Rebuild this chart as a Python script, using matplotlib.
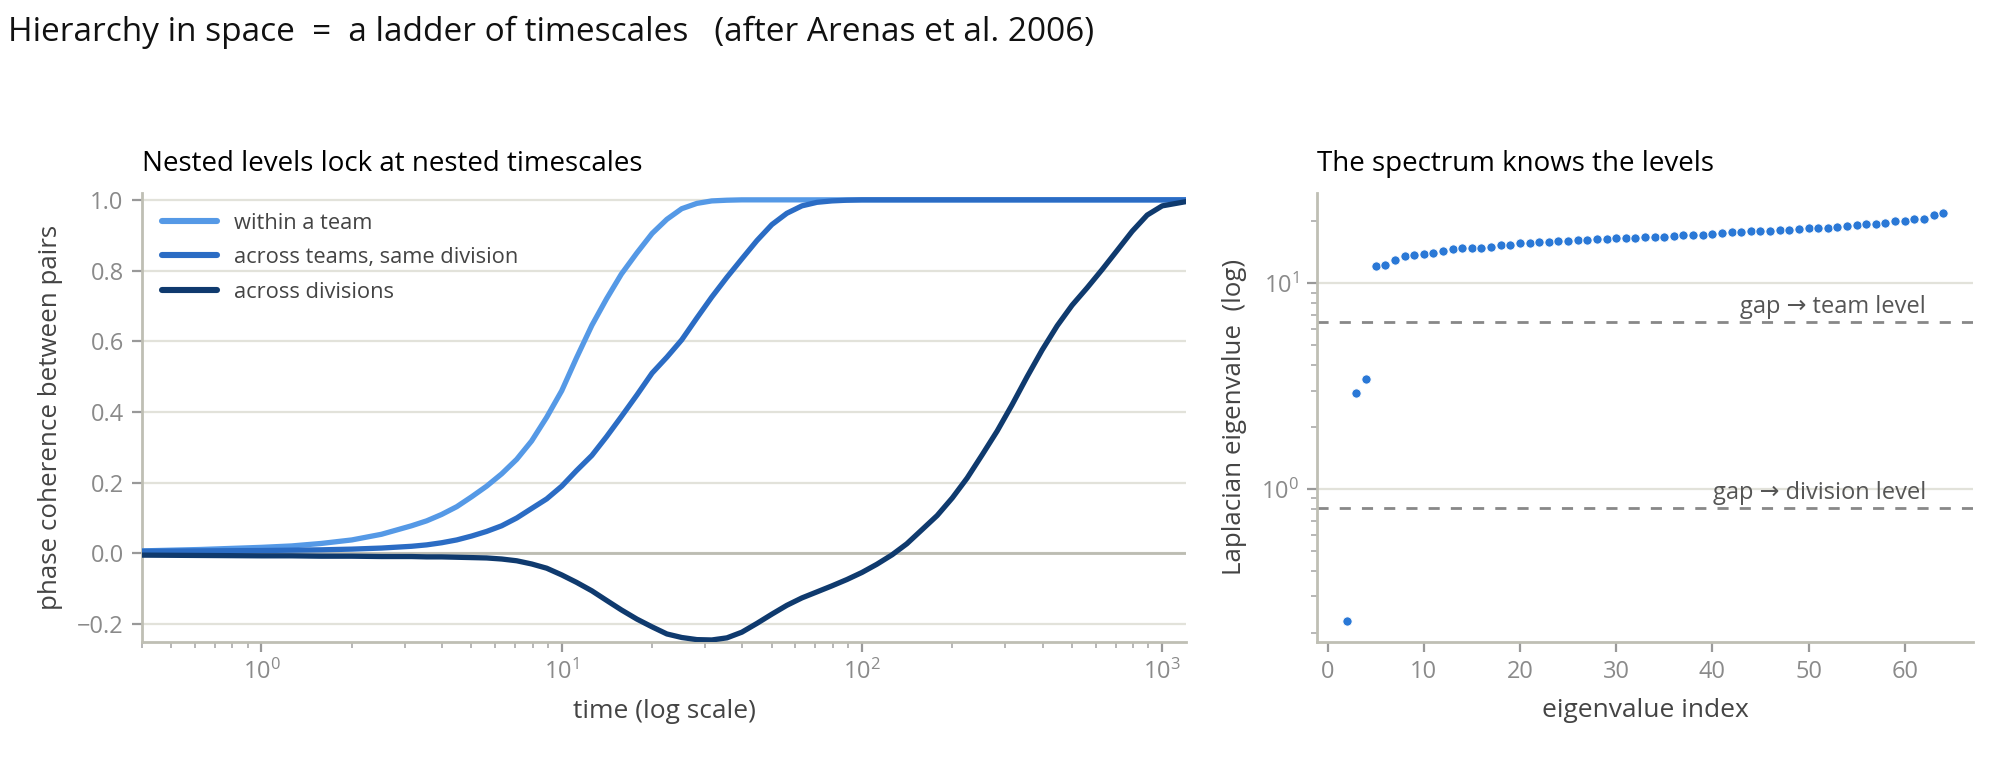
import matplotlib
matplotlib.use("Agg")
import matplotlib.pyplot as plt
from matplotlib.ticker import LogLocator, NullFormatter

# coherence curves
times = [0.4, 0.63, 1, 1.26, 1.58, 2.0, 2.51, 3.16, 3.55, 3.98,
         4.47, 5.01, 5.62, 6.31, 7.08, 7.94, 8.91, 10,
         11.2, 12.6, 14.1, 15.8, 17.8, 20, 22.4, 25.1, 28.2, 31.6,
         35.5, 39.8, 44.7, 50.1, 56.2, 63.1, 70.8, 79.4, 89.1, 100,
         112, 126, 141, 158, 178, 200, 224, 251, 282, 316,
         355, 398, 447, 501, 562, 631, 708, 794, 891, 1000, 1200]

within_team = [0.007, 0.011, 0.017, 0.021, 0.028, 0.038, 0.054, 0.078, 0.092, 0.11,
               0.132, 0.16, 0.19, 0.225, 0.266, 0.318, 0.385, 0.46,
               0.553, 0.645, 0.72, 0.79, 0.85, 0.905, 0.945, 0.975, 0.99, 0.997,
               0.999, 1.0, 1.0, 1.0, 1.0, 1.0, 1.0, 1.0, 1.0, 1.0,
               1.0, 1.0, 1.0, 1.0, 1.0, 1.0, 1.0, 1.0, 1.0, 1.0,
               1.0, 1.0, 1.0, 1.0, 1.0, 1.0, 1.0, 1.0, 1.0, 1.0, 1.0]

across_teams = [0.006, 0.007, 0.008, 0.009, 0.01, 0.012, 0.015, 0.02, 0.024, 0.03,
                0.038, 0.049, 0.062, 0.078, 0.1, 0.127, 0.154, 0.19,
                0.234, 0.277, 0.33, 0.387, 0.448, 0.51, 0.555, 0.604, 0.666, 0.725,
                0.781, 0.833, 0.885, 0.93, 0.962, 0.983, 0.993, 0.997, 0.999, 1.0,
                1.0, 1.0, 1.0, 1.0, 1.0, 1.0, 1.0, 1.0, 1.0, 1.0,
                1.0, 1.0, 1.0, 1.0, 1.0, 1.0, 1.0, 1.0, 1.0, 1.0, 1.0]

across_divisions = [-0.005, -0.006, -0.007, -0.007, -0.008, -0.008, -0.009, -0.009, -0.01, -0.01,
                    -0.011, -0.012, -0.013, -0.016, -0.021, -0.03, -0.042, -0.061,
                    -0.082, -0.106, -0.133, -0.16, -0.186, -0.208, -0.228, -0.238, -0.244, -0.245,
                    -0.239, -0.223, -0.198, -0.172, -0.147, -0.126, -0.109, -0.092, -0.074, -0.054,
                    -0.031, -0.004, 0.027, 0.066, 0.107, 0.157, 0.213, 0.278, 0.346, 0.42,
                    0.5, 0.575, 0.644, 0.702, 0.751, 0.803, 0.857, 0.911, 0.957, 0.983, 0.995]

series_labels = ["within a team", "across teams, same division", "across divisions"]
series_colors = ["#5599e6", "#2b6cc4", "#0f3a6e"]

# Laplacian spectrum
eig_index = list(range(2, 65))
eig_values = [0.227, 2.93, 3.43, 12.15, 12.29, 13.04, 13.49, 13.65, 13.8, 14.0,
              14.38, 14.65, 14.82, 14.82, 14.82, 15.0, 15.28, 15.28, 15.68, 15.68,
              15.85, 15.85, 16.03, 16.03, 16.22, 16.22, 16.4, 16.4, 16.5, 16.5,
              16.58, 16.76, 16.76, 16.76, 17.0, 17.14, 17.14, 17.14, 17.34, 17.46,
              17.66, 17.8, 18.0, 18.0, 18.0, 18.2, 18.2, 18.4, 18.55, 18.55,
              18.55, 18.8, 19.06, 19.2, 19.4, 19.4, 19.64, 20.0, 20.0, 20.45,
              20.45, 21.5, 21.9]
gap_values = [6.5, 0.81]
gap_labels = ["gap \u2192 team level", "gap \u2192 division level"]

plt.rcParams["font.family"] = ["Open Sans", "DejaVu Sans"]
plt.rcParams["mathtext.fontset"] = "custom"
plt.rcParams["mathtext.rm"] = "Open Sans"
plt.rcParams["mathtext.it"] = "Open Sans:italic"

SPINE = "#bfbfb4"
GRID = "#e2e2da"
TICKC = "#8a8a8a"
LABC = "#444444"


def style_axes(ax):
    for s in ["top", "right"]:
        ax.spines[s].set_visible(False)
    for s in ["left", "bottom"]:
        ax.spines[s].set_color(SPINE)
        ax.spines[s].set_linewidth(1.0)
    ax.tick_params(which="major", length=3.6, width=0.8, color="#999999",
                   labelcolor=TICKC, labelsize=8.5, pad=3)
    ax.tick_params(which="minor", length=2.2, width=0.6, color="#aaaaaa")
    ax.set_axisbelow(True)


fig = plt.figure(figsize=(10, 3.795), dpi=200)
ax1 = fig.add_axes([0.071, 0.1545, 0.522, 0.5915])
ax2 = fig.add_axes([0.6585, 0.1545, 0.328, 0.5915])

# left panel
style_axes(ax1)
ax1.set_xscale("log")
ax1.grid(axis="y", color=GRID, lw=0.8)
ax1.axhline(0, color="#bcbcb2", lw=1.0, zorder=1)
for ys, lab, col in zip([within_team, across_teams, across_divisions], series_labels, series_colors):
    ax1.plot(times, ys, color=col, lw=1.9, label=lab, solid_capstyle="round",
             solid_joinstyle="round", zorder=3)
ax1.set_xlim(0.4, 1200)
ax1.set_ylim(-0.25, 1.02)
ax1.set_yticks([-0.2, 0.0, 0.2, 0.4, 0.6, 0.8, 1.0])
ax1.set_xlabel("time (log scale)", fontsize=9.5, color=LABC, labelpad=5)
ax1.set_ylabel("phase coherence between pairs", fontsize=9.3, color=LABC, labelpad=5)
ax1.set_title("Nested levels lock at nested timescales", loc="left", fontsize=10, pad=8)
leg = ax1.legend(loc="upper left", frameon=False, fontsize=7.9, handlelength=2.5,
                 handletextpad=0.8, labelspacing=0.62)
for t in leg.get_texts():
    t.set_color(LABC)
for h in leg.get_lines():
    h.set_linewidth(2.2)

# right panel
style_axes(ax2)
ax2.set_yscale("log")
ax2.grid(axis="y", which="major", color=GRID, lw=0.8)
ax2.scatter(eig_index, eig_values, s=11, color="#2a78d6", edgecolor="white", linewidth=0.3, zorder=3)
for gv, gl in zip(gap_values, gap_labels):
    ax2.axhline(gv, color="#888888", lw=1.0, linestyle=(0, (4, 4)), zorder=2)
    ax2.text(62.2, gv * 1.03, gl, ha="right", va="bottom", fontsize=8.5, color="#555555")
ax2.set_xticks([0, 10, 20, 30, 40, 50, 60])
ax2.yaxis.set_minor_locator(LogLocator(base=10, subs=range(2, 10)))
ax2.yaxis.set_minor_formatter(NullFormatter())
ax2.set_xlabel("eigenvalue index", fontsize=9.5, color=LABC, labelpad=5)
ax2.set_ylabel("Laplacian eigenvalue  (log)", fontsize=9.3, color=LABC, labelpad=5)
ax2.set_title("The spectrum knows the levels", loc="left", fontsize=10, pad=8)

fig.text(0.004, 1 - 41 / 759, "Hierarchy in space  =  a ladder of timescales   (after Arenas et al. 2006)",
         fontsize=12, va="baseline", ha="left", color="#111111")

fig.savefig("out.png", dpi=200)
